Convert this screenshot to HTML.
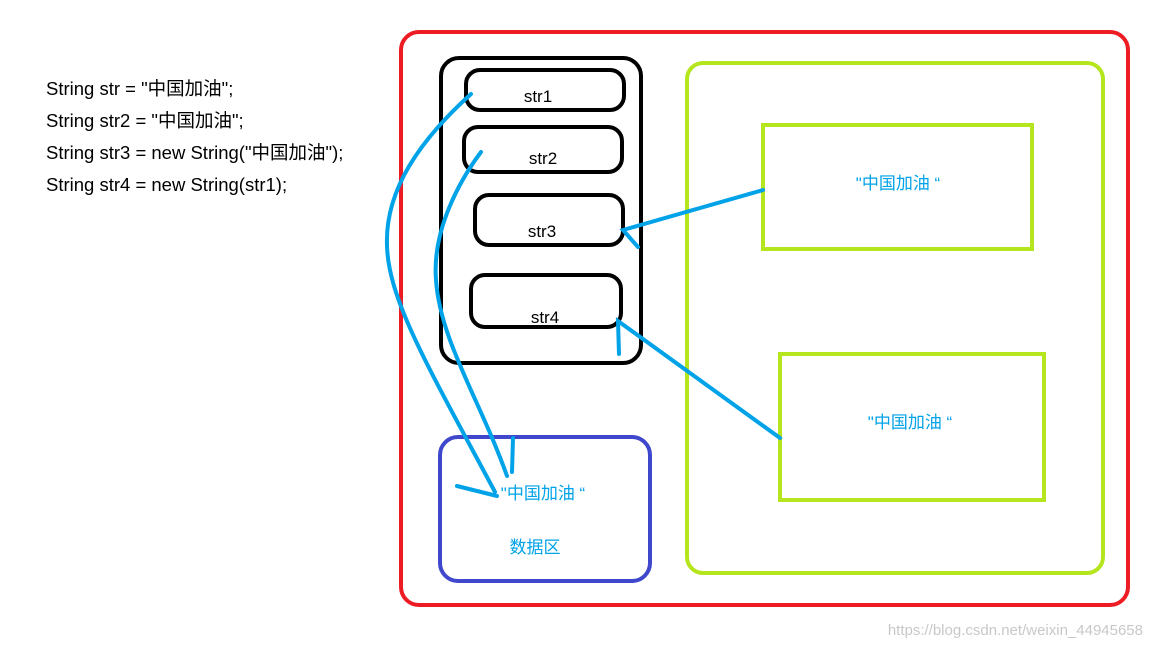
<!DOCTYPE html>
<html><head><meta charset="utf-8"><style>
body{margin:0;width:1152px;height:648px;background:#fff;overflow:hidden;position:relative;font-family:"Liberation Sans","Noto Sans CJK SC",sans-serif;}
.code{position:absolute;left:46px;font-size:18.5px;line-height:20px;height:20px;color:#000;white-space:nowrap;}
</style></head><body>
<div class="code" style="top:79px">String str = "中国加油";</div>
<div class="code" style="top:111px">String str2 = "中国加油";</div>
<div class="code" style="top:143px">String str3 = new String("中国加油");</div>
<div class="code" style="top:175px">String str4 = new String(str1);</div>
<svg width="1152" height="648" style="position:absolute;left:0;top:0" font-family="Liberation Sans, Noto Sans CJK SC, sans-serif">
<rect x="401" y="32" width="727" height="573" rx="18" fill="none" stroke="#ed1c24" stroke-width="4"/>
<rect x="687" y="63" width="416" height="510" rx="16" fill="none" stroke="#b5e61d" stroke-width="4"/>
<rect x="763" y="125" width="269" height="124" fill="none" stroke="#b5e61d" stroke-width="4"/>
<rect x="780" y="354" width="264" height="146" fill="none" stroke="#b5e61d" stroke-width="4"/>
<rect x="441" y="58" width="200" height="305" rx="18" fill="none" stroke="#000" stroke-width="4"/>
<rect x="466" y="70" width="158" height="40" rx="14" fill="none" stroke="#000" stroke-width="4"/>
<rect x="464" y="127" width="158" height="45" rx="14" fill="none" stroke="#000" stroke-width="4"/>
<rect x="475" y="195" width="148" height="50" rx="14" fill="none" stroke="#000" stroke-width="4"/>
<rect x="471" y="275" width="150" height="52" rx="14" fill="none" stroke="#000" stroke-width="4"/>
<rect x="440" y="437" width="210" height="144" rx="18" fill="none" stroke="#3f48cc" stroke-width="4"/>
<g font-size="17" fill="#000" text-anchor="middle">
<text x="538" y="102">str1</text><text x="543" y="164">str2</text>
<text x="542" y="237">str3</text><text x="545" y="323">str4</text>
</g>
<g font-size="17" fill="#00a2e8" text-anchor="middle">
<text x="898" y="189">"中国加油 “</text>
<text x="910" y="428">"中国加油 “</text>
<text x="543" y="499">"中国加油 “</text>
<text x="535" y="553">数据区</text>
</g>
<g fill="none" stroke="#00a2e8" stroke-width="4" stroke-linecap="round">
<path d="M471 94 C420 140 385 190 387 245 C388 300 430 370 495 492"/>
<path d="M457 486 L497 496"/>
<path d="M481 152 C460 180 432 230 436 280 C440 340 480 400 507 476"/>
<path d="M513 438 L512 472"/>
<path d="M763 190 L623 230 L638 247"/>
<path d="M780 438 L618 321 L619 354"/>
</g>
<text x="1143" y="635" font-size="15" fill="#c8c8c8" text-anchor="end">https://blog.csdn.net/weixin_44945658</text>
</svg>
</body></html>
